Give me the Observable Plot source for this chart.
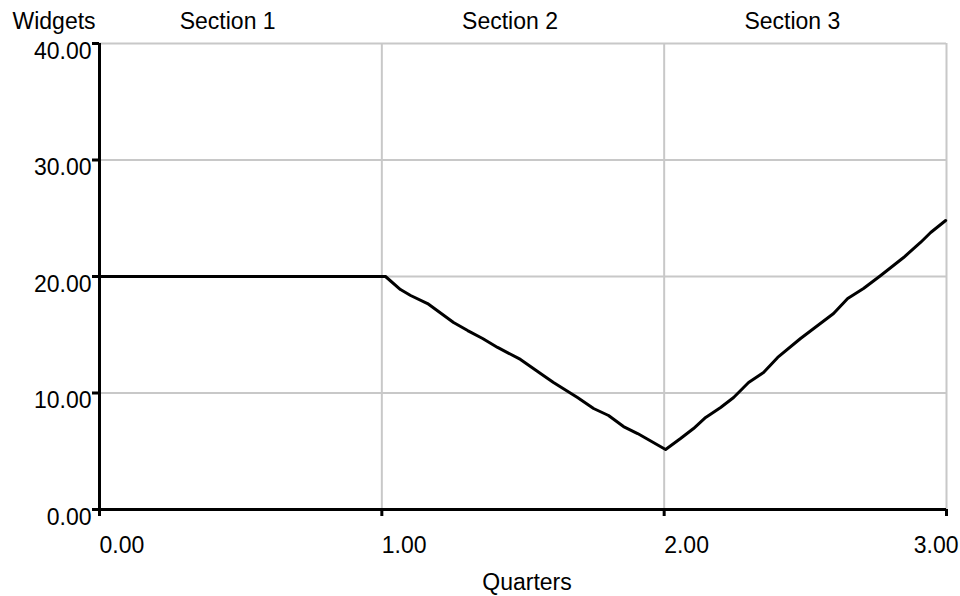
<!DOCTYPE html>
<html>
<head>
<meta charset="utf-8">
<script src="https://cdn.jsdelivr.net/npm/d3@7"></script>
<script src="https://cdn.jsdelivr.net/npm/@observablehq/plot@0.6"></script>
<style>
  html, body { margin: 0; padding: 0; background: #fff; }
</style>
</head>
<body>
<div id="chart"></div>
<script>
// Quarters (x) and Widgets (y)
const quarters = [0, 1.013, 1.066, 1.102, 1.162, 1.254, 1.304, 1.357, 1.410, 1.491, 1.562, 1.608, 1.693, 1.750, 1.803, 1.856, 1.906, 2.005, 2.058, 2.104, 2.147, 2.200, 2.246, 2.299, 2.352, 2.402, 2.483, 2.600, 2.650, 2.706, 2.767, 2.848, 2.908, 2.944, 2.997];
const widgets  = [20, 20, 18.88, 18.37, 17.68, 16.05, 15.36, 14.68, 13.91, 12.88, 11.67, 10.90, 9.61, 8.67, 8.07, 7.12, 6.52, 5.15, 6.09, 6.95, 7.90, 8.76, 9.61, 10.90, 11.76, 13.05, 14.68, 16.82, 18.11, 18.97, 20.09, 21.63, 22.92, 23.78, 24.81];

const xTicks = [0, 1, 2, 3];
const xTickLabels = ["0.00", "1.00", "2.00", "3.00"];
const yTicks = [0, 10, 20, 30, 40];
const yTickLabels = ["0.00", "10.00", "20.00", "30.00", "40.00"];
const sectionNames = ["Section 1", "Section 2", "Section 3"];
const sectionCenters = [0.5, 1.5, 2.5];
const yTitle = "Widgets";
const xTitle = "Quarters";

const data = quarters.map((q, i) => ({q, w: widgets[i]}));
const font = "Liberation Sans, Arial, Helvetica, sans-serif";
const fs = 23;
const gridColor = "#c8c8c8";

const chart = Plot.plot({
  width: 960,
  height: 596,
  marginLeft: 99,
  marginRight: 14,
  marginTop: 43,
  marginBottom: 87,
  x: {domain: [0, 3], axis: null},
  y: {domain: [0, 40], axis: null},
  style: {fontFamily: font, background: "#fff", color: "#000"},
  marks: [
    Plot.gridY(yTicks.filter(d => d > 0), {stroke: gridColor, strokeOpacity: 1, strokeWidth: 2}),
    Plot.gridX(xTicks.filter(d => d > 0), {stroke: gridColor, strokeOpacity: 1, strokeWidth: 2}),
    Plot.line(data, {x: "q", y: "w", stroke: "#000", strokeWidth: 3}),
    Plot.ruleX([0], {stroke: "#000", strokeWidth: 3}),
    Plot.ruleY([0], {stroke: "#000", strokeWidth: 3}),
    Plot.axisY(yTicks, {anchor: "left", tickSize: 7, strokeWidth: 3, tickFormat: () => "", label: null}),
    Plot.axisX(xTicks, {anchor: "bottom", tickSize: 7, strokeWidth: 3, tickFormat: () => "", label: null}),
    // y tick labels
    Plot.text(yTicks, {y: d => d, text: (d, i) => yTickLabels[i], frameAnchor: "left", textAnchor: "end", lineAnchor: "middle", dx: -8, dy: 8, fontSize: fs, fill: "#000"}),
    // x tick labels (first three left-aligned at tick, last one kept inside canvas)
    Plot.text(xTicks.slice(0, 3), {x: d => d, text: (d, i) => xTickLabels[i], frameAnchor: "bottom", textAnchor: "start", lineAnchor: "bottom", dx: 0, dy: 43, fontSize: fs, fill: "#000"}),
    Plot.text(xTicks.slice(3), {x: d => d, text: () => xTickLabels[3], frameAnchor: "bottom", textAnchor: "end", lineAnchor: "bottom", dx: 12, dy: 43, fontSize: fs, fill: "#000"}),
    // section labels
    Plot.text(sectionCenters, {x: d => d, text: (d, i) => sectionNames[i], frameAnchor: "top", textAnchor: "middle", lineAnchor: "bottom", dx: -13, dy: -15, fontSize: fs, fill: "#000"}),
    // y title
    Plot.text([yTitle], {frameAnchor: "top-left", text: d => d, textAnchor: "start", lineAnchor: "bottom", dx: -87, dy: -15, fontSize: fs, fill: "#000"}),
    // x title
    Plot.text([xTitle], {x: () => 1.5, text: d => d, frameAnchor: "bottom", textAnchor: "middle", lineAnchor: "bottom", dx: 4, dy: 80, fontSize: fs, fill: "#000"})
  ]
});
document.getElementById("chart").appendChild(chart);
</script>
</body>
</html>
